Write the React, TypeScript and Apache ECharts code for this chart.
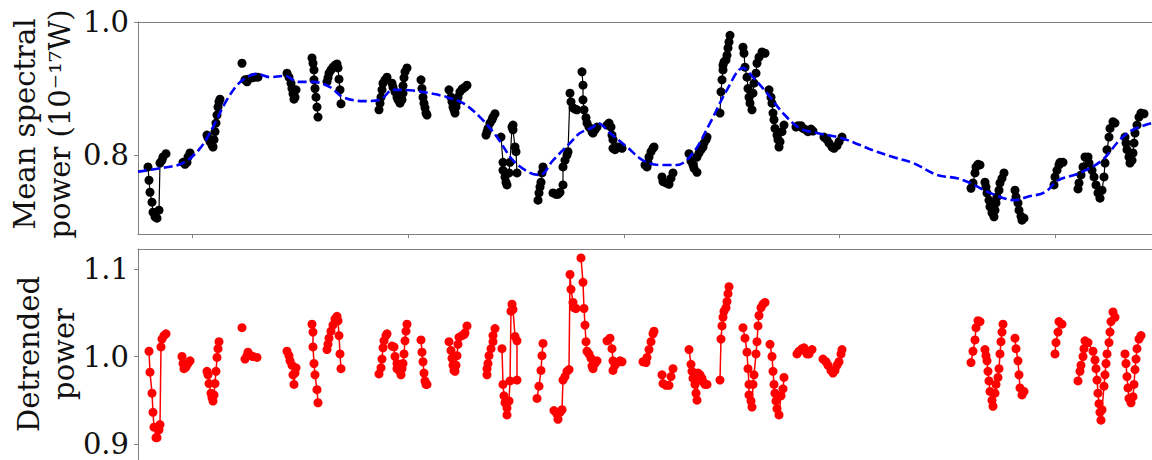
import React, { useEffect, useRef } from "react";
import * as echarts from "echarts";

// x: observation time (arbitrary units), null = gap between observing runs
const meanTime: (number | null)[] = [
  -44, -43, -42, -40, -39, -37, -35, -33, -32, -30, -29, -26, null,
  -9, -8, -7, -5, -4, -2, null,
  15, 16, 18, 20, 21, 22, 23, 24, 25, 26, 27, 28, null,
  50, null,
  53, 55, 56, 60, 63, 66, null,
  95, 97, 99, 100, 101, 102, 103, 104, null,
  120, 121, 122, 122, 123, 124, 125, 126, null,
  135, 136, 137, 139, 141, 143, 145, 146, 147, 148, 149, null,
  187, 188, 189, 190, 191, 193, 195, null,
  200, 201, 203, 205, 206, 208, 210, 211, 211, 212, 213, 215, null,
  229, 230, 231, 232, 233, 234, 235, null,
  257, 259, 260, 261, 262, 263, 264, 265, 266, 268, 270, 271, 273, 275, null,
  294, 295, 296, 298, 300, 301, 303, null,
  309, 311, 311, 313, 314, 315, 317, 318, 320, 321, 321, 323, 324, 325, null,
  346, 347, 348, 349, 350, 351, null,
  361, 364, 366, 368, 371, 371, 373, 375, 376, 378, 379, 381, 383, 385, null,
  390, 391, 391, 392, 394, 395, 397, 400, 401, 403, 405, null,
  415, 417, 419, 420, 421, 421, 423, 425, 427, 430, null,
  453, 455, 456, 457, 459, 461, 462, null,
  470, 471, 474, 477, 479, 481, null,
  497, 499, 501, 502, 505, 505, 507, 509, 511, 512, 514, 515, null,
  528, 529, 530, 531, 531, 532, 534, 535, 536, 537, 538, null,
  551, 552, 553, 555, 556, 557, 558, 560, 561, 562, 564, 565, 567, 570, 573, null,
  577, 579, 580, 581, 582, 583, 585, 586, 587, 588, 590, 592, null,
  604, 606, 609, 611, 614, 616, 619, 621, null,
  632, 635, 637, 640, 642, 645, 647, 650, null,
  779, 781, 783, 784, 786, 788, null,
  793, 794, 795, 797, 798, 800, 802, 803, 804, 805, 807, 808, 810, 812, null,
  823, 824, 826, 827, 829, 830, 832, null,
  862, 863, 865, 867, 868, 871, null,
  886, 887, 889, 891, 893, 896, 897, 900, 902, 904, 906, 908, 910, 912, 913, 915, 917, 918, 921, 923, null,
  933, 934, 935, 937, 938, 940, 941, 942, 943, 945, 947, 949, 952,
];

// mean spectral power, units of 1e-17 W
const meanPower: (number | null)[] = [
  0.782, 0.762, 0.744, 0.729, 0.714, 0.707, 0.705, 0.717, 0.788, 0.792, 0.797, 0.802, null,
  0.789, 0.788, 0.786, 0.789, 0.797, 0.803, null,
  0.83, 0.826, 0.82, 0.815, 0.812, 0.823, 0.835, 0.848, 0.86, 0.872, 0.88, 0.884, null,
  0.938, null,
  0.913, 0.91, 0.914, 0.916, 0.917, 0.917, null,
  0.923, 0.917, 0.908, 0.9, 0.892, 0.884, 0.887, 0.898, null,
  0.946, 0.938, 0.928, 0.913, 0.9, 0.887, 0.872, 0.857, null,
  0.91, 0.916, 0.923, 0.928, 0.932, 0.935, 0.937, 0.931, 0.914, 0.898, 0.877, null,
  0.868, 0.878, 0.887, 0.898, 0.908, 0.913, 0.917, null,
  0.908, 0.902, 0.895, 0.887, 0.883, 0.878, 0.883, 0.893, 0.904, 0.916, 0.925, 0.931, null,
  0.913, 0.9, 0.887, 0.878, 0.871, 0.863, 0.86, null,
  0.898, 0.887, 0.88, 0.872, 0.868, 0.863, 0.872, 0.88, 0.887, 0.895, 0.899, 0.9, 0.902, 0.905, null,
  0.83, 0.835, 0.84, 0.848, 0.853, 0.857, 0.862, null,
  0.827, 0.789, 0.777, 0.767, 0.759, 0.755, 0.773, 0.789, 0.842, 0.845, 0.838, 0.812, 0.805, 0.773, null,
  0.732, 0.743, 0.752, 0.759, 0.773, 0.782, null,
  0.743, 0.741, 0.741, 0.744, 0.755, 0.782, 0.792, 0.8, 0.805, 0.893, 0.88, 0.871, 0.869, 0.868, null,
  0.925, 0.905, 0.883, 0.868, 0.856, 0.848, 0.842, 0.835, 0.833, 0.838, 0.842, null,
  0.845, 0.848, 0.842, 0.83, 0.823, 0.81, 0.808, 0.812, 0.812, 0.81, null,
  0.785, 0.782, 0.788, 0.797, 0.805, 0.81, 0.812, null,
  0.767, 0.76, 0.758, 0.756, 0.765, 0.773, null,
  0.802, 0.791, 0.785, 0.78, 0.774, 0.797, 0.803, 0.808, 0.812, 0.818, 0.823, 0.827, null,
  0.863, 0.895, 0.913, 0.928, 0.935, 0.94, 0.943, 0.95, 0.961, 0.97, 0.98, null,
  0.962, 0.953, 0.932, 0.917, 0.9, 0.887, 0.878, 0.868, 0.893, 0.908, 0.923, 0.938, 0.947, 0.955, 0.953, null,
  0.898, 0.887, 0.878, 0.863, 0.853, 0.84, 0.83, 0.823, 0.812, 0.82, 0.835, 0.845, null,
  0.842, 0.844, 0.844, 0.84, 0.838, 0.835, 0.839, 0.836, null,
  0.827, 0.823, 0.818, 0.812, 0.81, 0.814, 0.82, 0.827, null,
  0.75, 0.758, 0.773, 0.782, 0.786, 0.785, null,
  0.759, 0.752, 0.743, 0.732, 0.722, 0.713, 0.707, 0.717, 0.728, 0.737, 0.747, 0.758, 0.765, 0.773, null,
  0.747, 0.737, 0.728, 0.717, 0.708, 0.702, 0.705, null,
  0.755, 0.767, 0.777, 0.785, 0.789, 0.789, null,
  0.749, 0.758, 0.77, 0.782, 0.797, 0.797, 0.788, 0.777, 0.767, 0.755, 0.743, 0.735, 0.747, 0.767, 0.788, 0.808, 0.827, 0.84, 0.85, 0.848, null,
  0.827, 0.818, 0.808, 0.797, 0.788, 0.792, 0.803, 0.818, 0.833, 0.845, 0.857, 0.863, 0.862,
];

// smooth trend (blue dashed)
const trendTime: number[] = [
  -54, -32, -9, 8, 21, 33, 45, 55, 65, 78, 93, 106, 121, 138, 151, 171, 188, 201, 221, 241,
  255, 271, 288, 305, 321, 338, 348, 361, 378, 388, 401, 406, 418, 435, 451, 468, 485, 501,
  518, 535, 551, 561, 575, 591, 608, 625, 648, 668, 681, 701, 721, 745, 765, 778, 798, 823,
  835, 853, 866, 888, 910, 928, 941, 960,
];
const trendPower: number[] = [
  0.775, 0.78, 0.788, 0.81, 0.842, 0.878, 0.905, 0.917, 0.922, 0.917, 0.919, 0.91, 0.91, 0.902,
  0.887, 0.881, 0.883, 0.898, 0.897, 0.892, 0.887, 0.878, 0.857, 0.827, 0.792, 0.773, 0.77,
  0.792, 0.818, 0.833, 0.842, 0.848, 0.833, 0.812, 0.792, 0.785, 0.785, 0.803, 0.848, 0.898,
  0.931, 0.917, 0.893, 0.863, 0.84, 0.833, 0.826, 0.815, 0.807, 0.797, 0.788, 0.77, 0.765,
  0.758, 0.743, 0.732, 0.737, 0.744, 0.762, 0.773, 0.792, 0.823, 0.838, 0.848,
];

const detTime: (number | null)[] = [
  -43, -42, -40, -39, -38, -36, -35, -33, -32, -31, -30, -28, -26, null,
  -10, -9, -8, -6, -4, -2, null,
  15, 16, 17, 19, 20, 21, 22, 23, 24, 25, 26, 27, null,
  50, null,
  53, 55, 56, 59, 61, 65, null,
  95, 97, 98, 100, 101, 102, 103, 104, null,
  120, 121, 121, 122, 123, 125, 126, null,
  135, 136, 137, 139, 141, 143, 145, 146, 147, 148, 149, null,
  187, 189, 190, 191, 192, 194, 195, null,
  200, 202, 203, 205, 205, 207, 209, 210, 211, 212, 213, 214, 215, null,
  229, 230, 231, 232, 233, 234, 235, null,
  257, 259, 260, 261, 262, 263, 264, 265, 266, 267, 270, 272, 273, 275, null,
  295, 295, 296, 297, 299, 301, 301, 303, null,
  310, 311, 312, 313, 315, 315, 317, 318, 319, 320, 321, 323, 325, 325, null,
  345, 347, 349, 350, 351, null,
  362, 365, 366, 368, 370, 371, 373, 375, 377, 378, 379, 381, 382, 384, null,
  389, 391, 392, 393, 394, 395, 397, 399, 400, 401, 403, 405, null,
  415, 418, 420, 421, 421, 423, 425, 428, 430, null,
  451, 454, 455, 457, 459, 461, 462, null,
  470, 471, 474, 477, 479, 481, null,
  497, 499, 500, 501, 503, 504, 505, 506, 508, 510, 511, 513, 515, null,
  528, 529, 530, 531, 532, 534, 535, 536, 537, null,
  551, 553, 555, 556, 557, 557, 559, 560, 561, 562, 564, 565, 566, 567, 569, 571, 573, null,
  578, 580, 581, 582, 583, 584, 585, 587, 589, 591, 592, null,
  605, 607, 610, 612, 615, 617, 620, null,
  631, 634, 636, 639, 641, 643, 645, 647, 649, 650, null,
  779, 781, 783, 784, 786, 788, null,
  793, 794, 795, 796, 797, 798, 800, 801, 803, 804, 806, 807, 808, 809, 810, 811, null,
  823, 824, 826, 827, 828, 830, 832, null,
  863, 864, 866, 867, 870, null,
  886, 888, 889, 891, 892, 893, 896, 901, 903, 904, 905, 906, 907, 908, 909, 910, 912, 913, 914, 915, 917, 918, 919, 921, 923, null,
  933, 934, 935, 936, 937, 939, 941, 942, 943, 944, 945, 947, 949,
];

const detPower: (number | null)[] = [
  1.006, 0.982, 0.958, 0.936, 0.919, 0.907, 0.907, 0.916, 0.922, 1.011, 1.02, 1.024, 1.026, null,
  1.0, 0.992, 0.986, 0.988, 0.992, 0.995, null,
  0.983, 0.979, 0.969, 0.958, 0.953, 0.949, 0.956, 0.969, 0.983, 0.999, 1.009, 1.017, null,
  1.033, null,
  0.997, 1.001, 1.005, 1.001, 1.0, 0.999, null,
  1.006, 1.001, 0.995, 0.99, 0.979, 0.968, 0.981, 0.987, null,
  1.037, 1.028, 1.011, 0.992, 0.979, 0.962, 0.947, null,
  1.008, 1.014, 1.021, 1.029, 1.036, 1.043, 1.046, 1.041, 1.024, 1.003, 0.986, null,
  0.98, 0.987, 0.997, 1.01, 1.018, 1.024, 1.026, null,
  1.012, 1.011, 1.0, 0.992, 0.986, 0.984, 0.979, 0.986, 0.992, 1.003, 1.018, 1.029, 1.037, null,
  1.019, 1.005, 0.994, 0.981, 0.972, 0.968, 0.968, null,
  1.017, 1.007, 0.998, 0.99, 0.984, 0.983, 0.99, 1.001, 1.014, 1.022, 1.024, 1.025, 1.027, 1.035, null,
  0.979, 0.986, 0.992, 1.001, 1.009, 1.017, 1.024, 1.032, null,
  1.009, 0.968, 0.955, 0.947, 0.941, 0.933, 0.949, 0.972, 1.052, 1.06, 1.054, 1.023, 1.018, 0.973, null,
  0.952, 0.966, 0.984, 1.001, 1.015, null,
  0.938, 0.934, 0.928, 0.936, 0.939, 0.973, 0.977, 0.983, 0.985, 1.094, 1.077, 1.062, 1.056, 1.055, null,
  1.113, 1.085, 1.055, 1.036, 1.017, 1.006, 1.003, 0.998, 0.989, 0.986, 0.992, 0.995, null,
  1.018, 1.021, 1.009, 0.995, 0.984, 0.99, 0.993, 0.995, 0.994, null,
  0.994, 0.993, 0.999, 1.008, 1.017, 1.026, 1.029, null,
  0.979, 0.969, 0.967, 0.967, 0.977, 0.986, null,
  1.008, 0.991, 0.983, 0.975, 0.968, 0.958, 0.95, 0.981, 0.979, 0.975, 0.971, 0.968, 0.968, null,
  0.973, 1.02, 1.035, 1.045, 1.052, 1.056, 1.063, 1.072, 1.08, null,
  1.033, 1.021, 1.005, 0.986, 0.968, 0.956, 0.949, 0.942, 0.968, 0.979, 1.003, 1.017, 1.035, 1.047, 1.056, 1.06, 1.062, null,
  1.014, 1.0, 0.983, 0.968, 0.958, 0.949, 0.94, 0.933, 0.955, 0.963, 0.976, null,
  1.003, 1.006, 1.009, 1.01, 1.003, 1.003, 1.008, null,
  0.997, 0.994, 0.99, 0.984, 0.981, 0.984, 0.99, 0.994, 1.003, 1.008, null,
  0.993, 1.006, 1.019, 1.033, 1.041, 1.04, null,
  1.008, 1.001, 0.995, 0.983, 0.972, 0.96, 0.95, 0.943, 0.958, 0.968, 0.976, 0.986, 1.003, 1.017, 1.028, 1.037, null,
  1.021, 1.009, 0.995, 0.979, 0.964, 0.956, 0.96, null,
  1.003, 1.016, 1.028, 1.04, 1.037, null,
  0.972, 0.983, 0.99, 1.0, 1.009, 1.018, 1.016, 1.006, 0.996, 0.986, 0.973, 0.958, 0.946, 0.936, 0.927, 0.939, 0.966, 0.979, 0.992, 1.003, 1.016, 1.028, 1.04, 1.051, 1.045, null,
  1.003, 0.992, 0.977, 0.964, 0.952, 0.947, 0.954, 0.968, 0.985, 0.997, 1.009, 1.02, 1.024,
];

const xTicks = [0, 216, 432, 647, 863];
const meanTicks = [0.8, 1.0];
const detTicks = [0.9, 1.0, 1.1];

const FONT = "DejaVu Serif";
const SPINE = "#808080";

function zip(t: (number | null)[], p: (number | null)[]) {
  return t.map((x, i) => (x === null || p[i] === null ? ["-", "-"] : [x, p[i]]));
}

function xAxisPair(grid: number) {
  const base = {
    type: "value",
    gridIndex: grid,
    min: -54,
    max: 960,
    splitLine: { show: false },
    axisLabel: { show: false },
  };
  return [
    {
      ...base,
      position: "bottom",
      axisLine: { show: true, onZero: false, lineStyle: { color: SPINE, width: 1 } },
      axisTick: { show: true, length: 4, customValues: xTicks, lineStyle: { color: SPINE, width: 1 } },
    },
    {
      ...base,
      position: "top",
      axisLine: { show: true, onZero: false, lineStyle: { color: SPINE, width: 1 } },
      axisTick: { show: false },
    },
  ];
}

function yAxis(grid: number, min: number, max: number, ticks: number[]) {
  return {
    type: "value",
    gridIndex: grid,
    min,
    max,
    splitLine: { show: false },
    axisLine: { show: true, onZero: false, lineStyle: { color: SPINE, width: 1 } },
    axisTick: { show: true, length: 4, customValues: ticks, lineStyle: { color: SPINE, width: 1 } },
    axisLabel: {
      show: true,
      customValues: ticks,
      margin: 9,
      color: "#111",
      fontFamily: FONT,
      fontSize: 29,
      showMinLabel: true,
      showMaxLabel: true,
      formatter: (v: number) => v.toFixed(1),
    },
  };
}

export default function App() {
  const ref = useRef<HTMLDivElement>(null);
  useEffect(() => {
    if (!ref.current) return;
    const chart = echarts.init(ref.current, null, { renderer: "svg" });
    const option: any = {
      animation: false,
      backgroundColor: "#ffffff",
      grid: [
        { left: 138, top: 22, right: 0, height: 212 },
        { left: 138, top: 249, right: 0, height: 214 },
      ],
      xAxis: [...xAxisPair(0), ...xAxisPair(1)],
      yAxis: [yAxis(0, 0.6812, 1.0, meanTicks), yAxis(1, 0.8814, 1.1232, detTicks)],
      graphic: [
        {
          type: "text",
          x: 42,
          y: 124,
          rotation: Math.PI / 2,
          style: {
            text: "Mean spectral\npower (10\u207B\u00B9\u2077W)",
            font: `29px "${FONT}"`,
            fill: "#111",
            textAlign: "center",
            textVerticalAlign: "middle",
            lineHeight: 35,
          },
        },
        {
          type: "text",
          x: 46,
          y: 354,
          rotation: Math.PI / 2,
          style: {
            text: "Detrended\npower",
            font: `29px "${FONT}"`,
            fill: "#111",
            textAlign: "center",
            textVerticalAlign: "middle",
            lineHeight: 35,
          },
        },
      ],
      series: [
        {
          type: "line",
          xAxisIndex: 0,
          yAxisIndex: 0,
          data: zip(meanTime, meanPower),
          connectNulls: false,
          symbol: "circle",
          symbolSize: 9,
          showAllSymbol: true,
          itemStyle: { color: "#000" },
          lineStyle: { color: "#000", width: 1.2 },
          z: 2,
        },
        {
          type: "line",
          xAxisIndex: 0,
          yAxisIndex: 0,
          data: trendTime.map((t, i) => [t, trendPower[i]]),
          symbol: "none",
          smooth: 0.35,
          lineStyle: { color: "#0000ff", width: 2.6, type: [9, 4] },
          z: 3,
        },
        {
          type: "line",
          xAxisIndex: 2,
          yAxisIndex: 1,
          data: zip(detTime, detPower),
          connectNulls: false,
          symbol: "circle",
          symbolSize: 9,
          showAllSymbol: true,
          itemStyle: { color: "#ff0000" },
          lineStyle: { color: "#ff0000", width: 1.5 },
          z: 2,
        },
      ],
    };
    chart.setOption(option);
    return () => chart.dispose();
  }, []);
  return (
    <div
      ref={ref}
      style={{ position: "fixed", left: 0, top: 0, width: 1152, height: 460, background: "#fff" }}
    />
  );
}
